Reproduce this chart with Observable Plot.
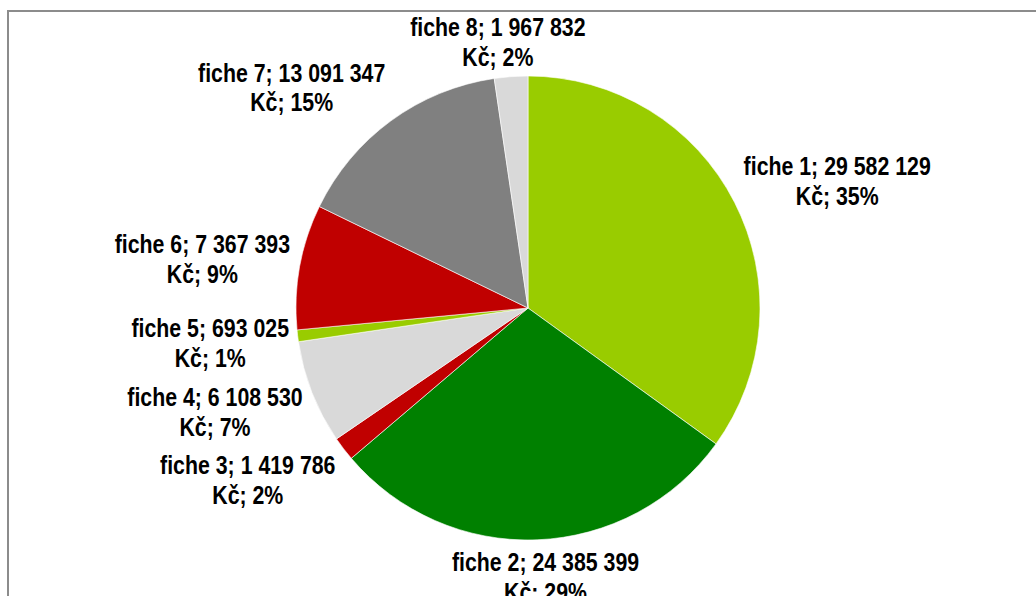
<!DOCTYPE html>
<html>
<head>
<meta charset="utf-8">
<script src="https://cdn.jsdelivr.net/npm/d3@7"></script>
<script src="https://cdn.jsdelivr.net/npm/@observablehq/plot@0.6"></script>
<style>
  html, body { margin: 0; padding: 0; background: #fff; overflow: hidden; }
  #frame { position: absolute; left: 7px; top: 10px; width: 1200px; height: 800px;
           border-left: 2px solid #8c8c8c; border-top: 2px solid #8c8c8c; }
  #chart { position: absolute; left: 0; top: 0; }
</style>
</head>
<body>
<div id="frame"></div>
<div id="chart"></div>
<script>
// ---- data ----
const names = ["fiche 1", "fiche 2", "fiche 3", "fiche 4", "fiche 5", "fiche 6", "fiche 7", "fiche 8"];
const values = [29582129, 24385399, 1419786, 6108530, 693025, 7367393, 13091347, 1967832];
const colors = ["#99cc00", "#008000", "#c00000", "#d9d9d9", "#99cc00", "#c00000", "#808080", "#d9d9d9"];
const currency = "Kč";

// ---- layout ----
const W = 1036, H = 596;
const CX = 528, CY = 308, R = 232, LABEL_DIST = 240;
const NARROW = 0.82;

const total = d3.sum(values);
const pie = d3.pie().sort(null).value(d => d.value)(names.map((n, i) => ({name: n, value: values[i]})));
const fmtNum = v => String(v).replace(/\B(?=(\d{3})+(?!\d))/g, " ");

const clamp = v => Math.max(-1, Math.min(1, v));
const labels = pie.map(p => {
  const a = (p.startAngle + p.endAngle) / 2;
  const sx = Math.sin(a), cy = Math.cos(a);
  const line1 = `${p.data.name}; ${fmtNum(p.data.value)}`;
  const line2 = `${currency}; ${Math.round(p.data.value / total * 100)}%`;
  const hw = line1.length * 5, hh = 28;
  return {
    name: p.data.name,
    text: line1 + "\n" + line2,
    x: CX + LABEL_DIST * sx + hw * clamp(sx * 2),
    y: CY - LABEL_DIST * cy - hh * clamp(cy * 1.5)
  };
});

const pieMark = (index, scales) => {
  const g = d3.create("svg:g");
  const arc = d3.arc().innerRadius(0).outerRadius(R);
  const ox = scales.x ? scales.x(CX) : CX, oy = scales.y ? scales.y(CY) : CY;
  g.attr("transform", `translate(${ox},${oy})`);
  g.selectAll("path").data(pie).join("path")
    .attr("d", arc)
    .attr("fill", (d, i) => colors[i])
    .attr("stroke", "#fff")
    .attr("stroke-width", 0.6);
  return g.node();
};

const chart = Plot.plot({
  width: W,
  height: H,
  margin: 0,
  x: {type: "identity", axis: null},
  y: {type: "identity", axis: null},
  style: {background: "transparent", overflow: "visible"},
  marks: [
    pieMark,
    Plot.text(labels, {
      x: "x", y: "y", text: "text",
      fontSize: 26, fontWeight: "bold", lineHeight: 1.15,
      fontFamily: "'Liberation Sans', Arial, sans-serif",
      fill: "#000", textAnchor: "middle", lineAnchor: "middle"
    })
  ]
});
// narrow the label glyphs horizontally (Arial Narrow look), keeping their anchor points
chart.querySelectorAll("text").forEach(t => {
  const tr = t.getAttribute("transform") || "";
  t.setAttribute("transform", `${tr} scale(${NARROW},1)`);
});
document.getElementById("chart").appendChild(chart);
</script>
</body>
</html>
